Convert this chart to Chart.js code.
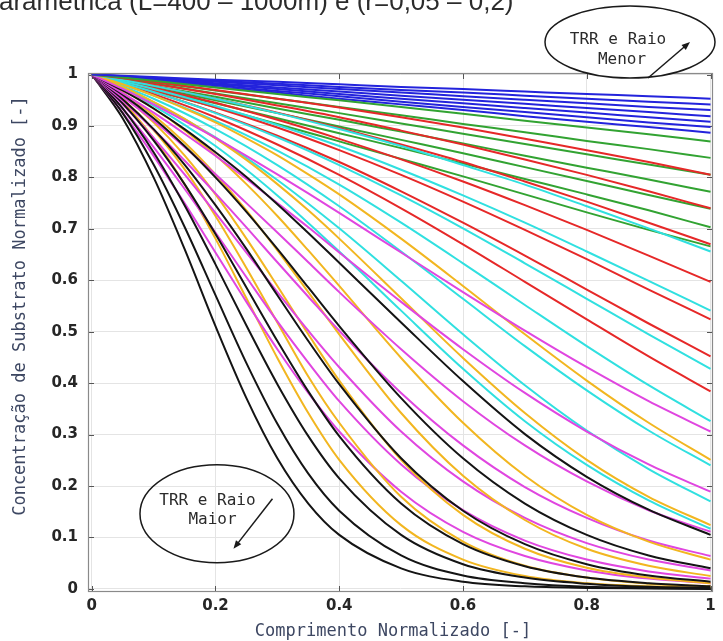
<!DOCTYPE html>
<html>
<head>
<meta charset="utf-8">
<script src="https://cdn.jsdelivr.net/npm/chart.js@4/dist/chart.umd.min.js"></script>
<style>
  html, body { margin: 0; padding: 0; background: #ffffff; }
  #wrap { position: relative; width: 723px; height: 641px; }
</style>
</head>
<body>
<div id="wrap"><canvas id="grafico" width="723" height="641"></canvas></div>
<script>
// Comprimento normalizado: passo 0,1 e, para as curvas mais íngremes, passo 0,05 no início
const comprimento = [0, 0.1, 0.2, 0.3, 0.4, 0.5, 0.6, 0.7, 0.8, 0.9, 1];
const comprimentoFino = [0, 0.05, 0.1, 0.15, 0.2, 0.25, 0.3, 0.35, 0.4, 0.5, 0.6, 0.7, 0.8, 0.9, 1];
// Comprimentos do reator (uma curva por valor, dentro de cada cor)
const comprimentosL = [400, 500, 600, 700, 800, 900, 1000];
const ticksX = [0, 0.2, 0.4, 0.6, 0.8, 1];
const ticksY = [0, 0.1, 0.2, 0.3, 0.4, 0.5, 0.6, 0.7, 0.8, 0.9, 1];

// Concentração normalizada de substrato, uma cor por raio, L = 400 ... 1000 m
const azul = [
  [1, .995, .990, .986, .981, .976, .972, .967, .962, .958, .953],
  [1, .994, .988, .982, .976, .970, .965, .959, .953, .947, .942],
  [1, .993, .986, .979, .972, .965, .958, .951, .944, .937, .931],
  [1, .992, .983, .975, .967, .959, .951, .943, .935, .927, .919],
  [1, .990, .981, .972, .962, .953, .944, .935, .926, .917, .908],
  [1, .989, .979, .968, .958, .947, .937, .927, .917, .907, .898],
  [1, .988, .976, .965, .953, .942, .931, .919, .908, .898, .887]
];
const verde = [
  [1, .988, .975, .962, .950, .937, .924, .910, .897, .884, .870],
  [1, .985, .969, .953, .937, .921, .904, .888, .871, .855, .838],
  [1, .982, .963, .944, .925, .905, .885, .865, .845, .825, .805],
  [1, .978, .957, .934, .912, .889, .866, .842, .819, .796, .772],
  [1, .975, .950, .925, .899, .873, .847, .820, .793, .766, .739],
  [1, .972, .944, .915, .886, .857, .827, .797, .767, .736, .703],
  [1, .969, .937, .904, .870, .836, .802, .767, .732, .698, .666]
];
const vermelho = [
  [1, .986, .970, .953, .936, .917, .897, .875, .853, .830, .805],
  [1, .982, .962, .940, .917, .891, .864, .835, .805, .773, .740],
  [1, .978, .953, .926, .896, .864, .830, .792, .753, .712, .670],
  [1, .974, .945, .912, .875, .835, .792, .746, .698, .648, .597],
  [1, .970, .936, .897, .853, .805, .753, .698, .641, .582, .524],
  [1, .966, .926, .881, .830, .773, .712, .648, .582, .516, .452],
  [1, .962, .917, .864, .805, .740, .670, .597, .524, .452, .384]
];
const ciano = [
  [1, .978, .953, .925, .894, .861, .824, .786, .744, .701, .656],
  [1, .972, .939, .902, .861, .815, .765, .712, .656, .599, .541],
  [1, .966, .925, .878, .824, .765, .701, .633, .564, .495, .428],
  [1, .959, .910, .852, .786, .712, .633, .552, .472, .396, .326],
  [1, .953, .894, .824, .744, .656, .564, .472, .386, .308, .240],
  [1, .946, .878, .795, .701, .599, .495, .396, .308, .233, .170],
  [1, .939, .861, .765, .656, .541, .428, .326, .241, .172, .117]
];
// as três famílias seguintes usam comprimentoFino
const magenta = [
  [1, .972, .942, .910, .877, .842, .806, .769, .731, .654, .577, .502, .431, .365, .306],
  [1, .964, .926, .885, .842, .797, .750, .703, .654, .558, .466, .381, .306, .242, .189],
  [1, .957, .910, .859, .806, .750, .693, .635, .577, .466, .365, .279, .209, .153, .111],
  [1, .949, .893, .833, .769, .703, .635, .568, .502, .381, .279, .198, .138, .094, .064],
  [1, .942, .877, .806, .731, .654, .577, .502, .431, .306, .209, .138, .089, .057, .036],
  [1, .934, .859, .778, .693, .606, .520, .440, .365, .242, .153, .094, .057, .034, .020],
  [1, .926, .842, .750, .654, .558, .466, .381, .306, .189, .111, .064, .036, .020, .011]
];
const laranja = [
  [1, .981, .959, .934, .907, .876, .843, .806, .767, .681, .589, .495, .405, .323, .251],
  [1, .976, .947, .914, .876, .834, .787, .736, .681, .565, .449, .342, .251, .179, .124],
  [1, .970, .934, .892, .843, .787, .725, .658, .589, .449, .323, .220, .144, .092, .057],
  [1, .965, .921, .868, .806, .736, .658, .577, .495, .342, .220, .134, .078, .045, .025],
  [1, .959, .907, .843, .767, .681, .589, .495, .405, .251, .144, .078, .041, .022, .011],
  [1, .953, .892, .816, .725, .624, .518, .413, .323, .179, .092, .045, .022, .010, .005],
  [1, .947, .876, .787, .681, .565, .449, .342, .251, .124, .057, .025, .011, .005, .002]
];
const preto = [
  [1, .969, .934, .894, .849, .801, .748, .692, .634, .518, .404, .301, .218, .154, .105],
  [1, .961, .915, .861, .800, .733, .661, .586, .511, .371, .254, .166, .105, .065, .040],
  [1, .952, .894, .825, .746, .661, .571, .482, .398, .254, .152, .087, .048, .026, .014],
  [1, .944, .872, .787, .690, .586, .482, .384, .297, .166, .087, .044, .022, .011, .005],
  [1, .934, .849, .746, .631, .512, .398, .297, .215, .105, .048, .022, .010, .004, .002],
  [1, .925, .825, .704, .571, .439, .321, .224, .152, .065, .026, .011, .004, .002, .001],
  [1, .915, .800, .661, .511, .371, .254, .166, .105, .040, .014, .005, .002, .001, .000]
];

const familias = [
  { nome: 'r1', cor: '#2323dc', x: comprimento, dados: azul },
  { nome: 'r2', cor: '#32a332', x: comprimento, dados: verde },
  { nome: 'r3', cor: '#e62828', x: comprimento, dados: vermelho },
  { nome: 'r4', cor: '#30e0e0', x: comprimento, dados: ciano },
  { nome: 'r5', cor: '#e046e0', x: comprimentoFino, dados: magenta },
  { nome: 'r6', cor: '#f2b620', x: comprimentoFino, dados: laranja },
  { nome: 'r7', cor: '#141414', x: comprimentoFino, dados: preto }
];

// Para cada L, todas as cores (a última desenhada fica por cima)
const datasets = [];
comprimentosL.forEach((L, j) => {
  familias.forEach(f => {
    datasets.push({
      label: f.nome + ' L=' + L,
      data: f.x.map((x, i) => ({ x: x, y: f.dados[j][i] })),
      borderColor: f.cor,
      borderWidth: 2,
      pointRadius: 0,
      fill: false,
      cubicInterpolationMode: 'monotone'
    });
  });
});

function rotulo(v) {
  if (Math.abs(v) < 1e-9) return '0';
  if (Math.abs(v - 1) < 1e-9) return '1';
  return v.toFixed(1);
}

function seta(ctx, x1, y1, x2, y2) {
  const ang = Math.atan2(y2 - y1, x2 - x1);
  const tam = 9, abre = 0.38;
  ctx.beginPath();
  ctx.moveTo(x1, y1);
  ctx.lineTo(x2 - Math.cos(ang) * 5, y2 - Math.sin(ang) * 5);
  ctx.stroke();
  ctx.beginPath();
  ctx.moveTo(x2, y2);
  ctx.lineTo(x2 - tam * Math.cos(ang - abre), y2 - tam * Math.sin(ang - abre));
  ctx.lineTo(x2 - tam * Math.cos(ang + abre), y2 - tam * Math.sin(ang + abre));
  ctx.closePath();
  ctx.fill();
}

const moldura = {
  id: 'moldura',
  beforeDatasetsDraw(chart) {
    const { ctx, chartArea: a, scales } = chart;
    ctx.save();
    ctx.strokeStyle = '#555555';
    ctx.lineWidth = 1;
    ticksX.forEach(v => {
      const px = Math.round(scales.x.getPixelForValue(v)) + 0.5;
      ctx.beginPath();
      ctx.moveTo(px, a.bottom); ctx.lineTo(px, a.bottom - 6);
      ctx.moveTo(px, a.top); ctx.lineTo(px, a.top + 6);
      ctx.stroke();
    });
    ticksY.forEach(v => {
      const py = Math.round(scales.y.getPixelForValue(v)) + 0.5;
      ctx.beginPath();
      ctx.moveTo(a.left, py); ctx.lineTo(a.left + 6, py);
      ctx.moveTo(a.right, py); ctx.lineTo(a.right - 6, py);
      ctx.stroke();
    });
    ctx.restore();
  },
  afterDraw(chart) {
    const { ctx, chartArea: a, scales } = chart;
    ctx.save();
    // caixa do gráfico
    ctx.strokeStyle = '#8a8a8a';
    ctx.lineWidth = 1.2;
    ctx.strokeRect(a.left + 0.5, a.top + 0.5, a.right - a.left - 1, a.bottom - a.top - 1);

    // título (parcialmente fora da área visível)
    ctx.fillStyle = '#2b2b2b';
    ctx.font = '26px "Liberation Sans", Arial, sans-serif';
    ctx.textAlign = 'left';
    ctx.textBaseline = 'alphabetic';
    ctx.fillText('arametrica (L=400 \u2013 1000m) e (r=0,05 \u2013 0,2)', -1, 10);

    // títulos dos eixos
    ctx.fillStyle = '#3d4762';
    ctx.font = '17px "DejaVu Sans Mono", monospace';
    ctx.textAlign = 'center';
    ctx.textBaseline = 'middle';
    ctx.fillText('Comprimento Normalizado [-]', 393, 632);
    ctx.save();
    ctx.translate(21, 306);
    ctx.rotate(-Math.PI / 2);
    ctx.fillText('Concentração de Substrato Normalizado [-]', 0, 0);
    ctx.restore();

    // anotação: TRR e Raio Menor
    ctx.strokeStyle = '#1a1a1a';
    ctx.fillStyle = '#ffffff';
    ctx.lineWidth = 1.5;
    ctx.beginPath();
    ctx.ellipse(630, 42, 85, 36, 0, 0, Math.PI * 2);
    ctx.fill();
    ctx.stroke();
    ctx.fillStyle = '#2b2b2b';
    ctx.font = '16px "DejaVu Sans Mono", monospace';
    ctx.fillText('TRR e Raio', 618, 40);
    ctx.fillText('Menor', 622, 60);
    ctx.fillStyle = '#1a1a1a';
    seta(ctx, 648, 78, 690, 42);

    // anotação: TRR e Raio Maior
    const cx = scales.x.getPixelForValue(0.2), cy = scales.y.getPixelForValue(0.146);
    ctx.beginPath();
    ctx.ellipse(cx + 1.5, cy, 77, 49, 0, 0, Math.PI * 2);
    ctx.stroke();
    ctx.fillStyle = '#2b2b2b';
    ctx.fillText('TRR e Raio', cx - 8, cy - 13);
    ctx.fillText('Maior', cx - 3, cy + 6);
    ctx.fillStyle = '#1a1a1a';
    seta(ctx, cx + 57, cy - 15, cx + 18, cy + 35);
    ctx.restore();
  }
};

new Chart(document.getElementById('grafico'), {
  type: 'line',
  data: { datasets: datasets },
  options: {
    responsive: false,
    animation: false,
    devicePixelRatio: 1,
    layout: { padding: { top: 73, right: 10, left: 0, bottom: 0 } },
    plugins: { legend: { display: false }, tooltip: { enabled: false } },
    scales: {
      x: {
        type: 'linear',
        min: -0.006,
        max: 1.004,
        afterBuildTicks: s => { s.ticks = ticksX.map(v => ({ value: v })); },
        afterFit: s => { s.height = 49; },
        grid: { color: '#e4e4e4', drawTicks: false, lineWidth: 1 },
        border: { display: false },
        ticks: {
          padding: 5,
          color: '#262626',
          font: { family: 'DejaVu Sans', size: 15, weight: 'bold' },
          callback: v => rotulo(v)
        }
      },
      y: {
        type: 'linear',
        min: -0.006,
        max: 1.003,
        afterBuildTicks: s => { s.ticks = ticksY.map(v => ({ value: v })); },
        afterFit: s => { s.width = 88; },
        grid: { color: '#e4e4e4', drawTicks: false, lineWidth: 1 },
        border: { display: false },
        ticks: {
          padding: 10,
          color: '#262626',
          font: { family: 'DejaVu Sans', size: 15, weight: 'bold' },
          callback: v => rotulo(v)
        }
      }
    }
  },
  plugins: [moldura]
});
</script>
</body>
</html>
